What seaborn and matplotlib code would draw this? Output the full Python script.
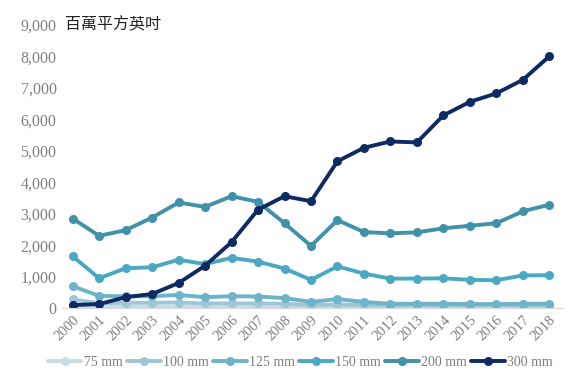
import pandas as pd
import matplotlib.pyplot as plt
import seaborn as sns

# ---------------------------------------------------------------
# Data: wafer area shipments by diameter (million square inches)
# ---------------------------------------------------------------
years = [str(y) for y in range(2000, 2019)]
series_names = ["75 mm", "100 mm", "125 mm", "150 mm", "200 mm", "300 mm"]

mm75 = [60, 40, 40, 40, 40, 30, 30, 30, 30, 20, 20, 20, 20, 20, 20, 20, 20, 20, 20]
mm100 = [280, 160, 170, 170, 180, 150, 150, 150, 140, 100, 120, 100, 90, 90, 90, 90, 90, 90, 90]
mm125 = [700, 390, 380, 380, 420, 350, 380, 370, 320, 200, 290, 200, 140, 140, 140, 130, 130, 140, 140]
mm150 = [1650, 950, 1270, 1300, 1540, 1400, 1600, 1480, 1260, 900, 1330, 1100, 940, 940, 950, 900, 890, 1040, 1050]
mm200 = [2850, 2300, 2480, 2880, 3360, 3220, 3560, 3380, 2700, 1980, 2800, 2420, 2380, 2410, 2540, 2620, 2700, 3080, 3290]
mm300 = [100, 130, 350, 450, 800, 1350, 2100, 3130, 3560, 3400, 4670, 5100, 5300, 5270, 6130, 6560, 6830, 7260, 8010]

colors = ["#c6dde7", "#9cc7d7", "#6db4ca", "#4ba8c3", "#3f92a8", "#0d2a62"]

df = pd.DataFrame({"year": years, "75 mm": mm75, "100 mm": mm100, "125 mm": mm125,
                   "150 mm": mm150, "200 mm": mm200, "300 mm": mm300})
long_df = df.melt(id_vars="year", var_name="size", value_name="area")

sns.set_theme(style="white")
plt.rcParams["font.family"] = ["Liberation Serif", "Noto Sans CJK TC", "DejaVu Sans"]

fig = plt.figure(figsize=(5.8, 3.8), dpi=100)
ax = fig.add_axes([0.107, 0.189, 0.863, 0.745])

sns.lineplot(data=long_df, x="year", y="area", hue="size", hue_order=series_names,
             palette=colors, marker="o", markersize=6.5, markeredgewidth=0,
             linewidth=2.8, sort=False, ax=ax)

ax.set_xlim(-0.4, 18.5)
ax.set_ylim(0, 9000)
ax.set_yticks(range(0, 9001, 1000))
ax.set_yticklabels([f"{v:,}" for v in range(0, 9001, 1000)])
ax.set_xlabel("")
ax.set_ylabel("")

for side in ["top", "right", "left"]:
    ax.spines[side].set_visible(False)
ax.spines["bottom"].set_color("#d9d9d9")
ax.spines["bottom"].set_linewidth(0.8)

ax.tick_params(axis="y", labelsize=11.5, colors="#7f7f7f", length=0, pad=4)
ax.tick_params(axis="x", labelsize=10.5, colors="#7f7f7f", length=0, pad=4)
plt.setp(ax.get_xticklabels(), rotation=45, ha="right", rotation_mode="anchor")

ax.text(0.005, 1.0, "百萬平方英吋", transform=ax.transAxes, fontsize=11.5,
        family=["Noto Sans CJK TC", "DejaVu Sans"], color="#222222", va="center", ha="left")

leg = ax.legend(loc="upper center", bbox_to_anchor=(0.476, -0.148), ncol=6, frameon=False,
                fontsize=10, handlelength=2.4, handletextpad=0.15, columnspacing=0.35,
                borderaxespad=0)
for txt in leg.get_texts():
    txt.set_color("#7f7f7f")

fig.savefig("out.png", dpi=100)
